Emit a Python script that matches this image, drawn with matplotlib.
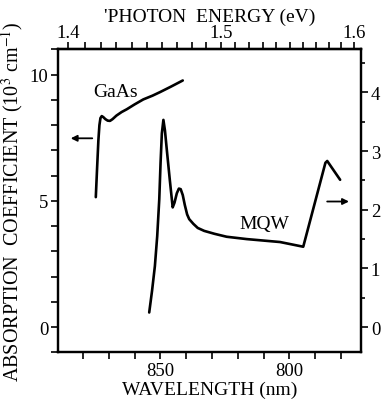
import numpy as np
import matplotlib
matplotlib.use('Agg')
import matplotlib.pyplot as plt
from matplotlib.ticker import MultipleLocator

plt.rcParams['font.family'] = ['Liberation Serif', 'DejaVu Serif']
plt.rcParams['font.size'] = 14
plt.rcParams['mathtext.fontset'] = 'stix'

# GaAs absorption (left axis, 10^3 cm^-1)
gaas_wl = [875.0, 874.5, 874.0, 873.6, 873.2, 872.7, 872.1, 871.3, 870.4, 869.5,
           868.5, 867.0, 865.0, 863.0, 860.0, 856.6, 853.0, 850.1, 846.0, 841.3]
gaas_abs = [5.15, 6.3, 7.4, 8.0, 8.28, 8.36, 8.32, 8.24, 8.18, 8.17,
            8.24, 8.38, 8.52, 8.63, 8.82, 9.02, 9.17, 9.31, 9.52, 9.77]

# MQW absorption (right axis)
mqw_wl = [854.3, 853.2, 852.1, 851.2, 850.4, 849.9, 849.4, 848.8, 848.2, 847.5,
          846.3, 845.2, 844.5, 843.6, 842.8, 842.1, 841.3, 840.5, 839.6, 838.8,
          837.2, 835.5, 833.0, 829.0, 824.3, 816.5, 803.6, 794.6, 786.0, 785.3, 780.3]
mqw_abs = [0.25, 0.62, 1.04, 1.55, 2.18, 2.8, 3.3, 3.53, 3.35, 3.03,
           2.5, 2.04, 2.12, 2.28, 2.36, 2.35, 2.25, 2.08, 1.92, 1.84,
           1.76, 1.69, 1.64, 1.59, 1.54, 1.50, 1.45, 1.37, 2.80, 2.83, 2.51]

fig = plt.figure(figsize=(3.88, 4.10), dpi=100)
ax = fig.add_axes([0.1495, 0.138, 0.781, 0.739])
ax2 = ax.twinx()

lw = 1.9
ax.plot(gaas_wl, gaas_abs, color='black', linewidth=lw, solid_capstyle='round',
        solid_joinstyle='round')
ax2.plot(mqw_wl, mqw_abs, color='black', linewidth=lw, solid_capstyle='round',
         solid_joinstyle='round')

ax.set_xlim(889.65, 772.2)
ax.set_ylim(-1, 11)
ax2.set_ylim(-0.43, 4.73)

ax.xaxis.set_major_locator(MultipleLocator(50))
ax.xaxis.set_minor_locator(MultipleLocator(10))
ax.yaxis.set_major_locator(MultipleLocator(5))
ax.yaxis.set_minor_locator(MultipleLocator(1))
ax2.yaxis.set_major_locator(MultipleLocator(1))
ax2.yaxis.set_minor_locator(MultipleLocator(0.5))

for a in (ax, ax2):
    a.tick_params(which='both', direction='out', width=1.2, labelsize=13.5, pad=2)
    a.tick_params(which='major', length=5)
    a.tick_params(which='minor', length=5)
    for s in a.spines.values():
        s.set_linewidth(1.6)
ax2.tick_params(which='minor', length=3)

# top axis: photon energy
top = ax.secondary_xaxis('top', functions=(lambda w: 1239.84 / w, lambda e: 1239.84 / e))
top.xaxis.set_minor_locator(MultipleLocator(0.01))
top.set_xticks([1.4, 1.5, 1.6], ['1.4', '1.5', '1.6'])
top.tick_params(which='both', direction='out', width=1.2, length=5, labelsize=13.5, pad=1)
top.spines['top'].set_linewidth(1.6)
top.set_xlabel("'PHOTON  ENERGY (eV)", fontsize=14, labelpad=2)

ax.set_xlabel('WAVELENGTH (nm)', fontsize=14, labelpad=1)
ax.set_ylabel('ABSORPTION  COEFFICIENT (10$^3$ cm$^{-1}$)', fontsize=14.5, labelpad=3)

# arrows and labels
ax.annotate('', xy=(885.8, 7.48), xytext=(875.3, 7.48),
            arrowprops=dict(arrowstyle='-|>', color='black', lw=1.3, mutation_scale=9))
ax2.annotate('', xy=(775.8, 2.14), xytext=(786.4, 2.14),
             arrowprops=dict(arrowstyle='-|>', color='black', lw=1.3, mutation_scale=9))
ax.text(867.3, 9.34, 'GaAs', ha='center', va='center', fontsize=14)
ax2.text(809.8, 1.77, 'MQW', ha='center', va='center', fontsize=14)

fig.savefig('out.png', dpi=100)
